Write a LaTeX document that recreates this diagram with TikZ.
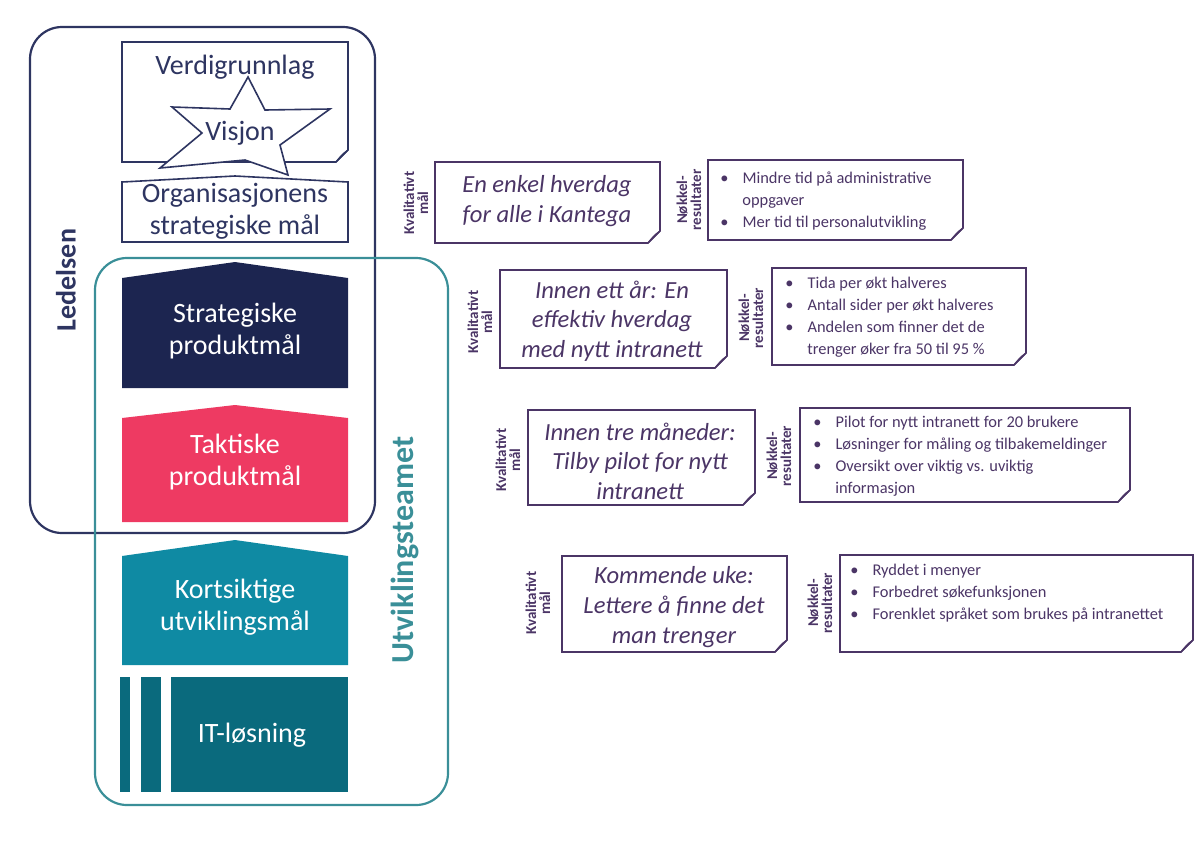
\documentclass[tikz,border=0pt]{standalone}
\usepackage{fontspec}
\setmainfont{Carlito}
\definecolor{navy}{HTML}{2E3561}
\definecolor{dnavy}{HTML}{1C2550}
\definecolor{tealc}{HTML}{3A8F98}
\definecolor{pinkc}{HTML}{EE3A62}
\definecolor{kort}{HTML}{0F8AA3}
\definecolor{itc}{HTML}{0A6A7D}
\definecolor{purp}{HTML}{4B3566}
\newcommand{\mynote}[5]{% x1 y1 x2 y2 color
  \draw[#5,line width=0.8pt,fill=white] (#1,#2) -- (#3,#2) -- (#3,#4-12) -- (#3-12,#4) -- (#1,#4) -- cycle;
  \draw[#5,line width=0.6pt,fill=gray!35] (#3,#4-12) -- (#3-12,#4) .. controls (#3-9,#4-4) .. (#3-4,#4-9) -- cycle;}
\newcommand{\bl}{\textbullet\hspace{7pt}}
\newcommand{\ind}{\hspace*{11pt}}
\tikzset{
  big/.style={font=\fontsize{14}{16}\selectfont,align=center},
  wt/.style={big,text=white},
  side/.style={rotate=90,font=\bfseries\fontsize{#1}{14}\selectfont},
  kv/.style={rotate=90,font=\bfseries\fontsize{7.5}{7}\selectfont,align=center,text=purp},
  goal/.style={font=\itshape\fontsize{12.3}{14.8}\selectfont,align=center,text=purp},
  res/.style={font=\fontsize{8.2}{11}\selectfont,align=left,text=purp,anchor=north west,inner sep=0pt},
}
\begin{document}
\begin{tikzpicture}[x=0.5pt,y=-0.5pt]
\useasboundingbox (0,0) rectangle (1200,842);
% left column
\mynote{122}{42}{348}{162}{navy}
\node[big,text=navy] (verdi) at (235,67) {Verdigrunnlag};
\draw[navy,line width=0.8pt,fill=white] (248,77) -- (265,110) -- (330,109) -- (280,145) -- (288,175) -- (245,160) -- (160,168) -- (202,133) -- (172,107) -- (230,109) -- cycle;
\node[big,text=navy] (visjon) at (240,133) {Visjon};
\draw[navy,line width=0.8pt,fill=white] (122,182) -- (235,176) -- (348,182) -- (348,242) -- (122,242) -- cycle;
\node[big,text=navy] (org) at (235,211) {Organisasjonens\\strategiske mål};
\fill[dnavy] (122,278) -- (235,262) -- (348,278) -- (348,388) -- (122,388) -- cycle;
\node[wt] (strat) at (235,331) {Strategiske\\produktmål};
\fill[pinkc] (122,418) -- (235,405) -- (348,418) -- (348,522) -- (122,522) -- cycle;
\node[wt] (takt) at (235,462) {Taktiske\\produktmål};
\fill[kort] (122,556) -- (235,540) -- (348,556) -- (348,665) -- (122,665) -- cycle;
\node[wt] (kort) at (235,607) {Kortsiktige\\utviklingsmål};
\fill[itc] (120,677) rectangle (130,792);
\fill[itc] (141,677) rectangle (161,792);
\fill[itc] (171,677) rectangle (348,792);
\node[wt] (it) at (252,735) {IT-løsning};
\draw[navy,line width=1.1pt,rounded corners=16pt] (30,27) rectangle (375,533);
\node[side=14,text=navy] (led) at (66,280) {Ledelsen};
\draw[tealc,line width=1.1pt,rounded corners=16pt] (95,258) rectangle (448,805);
\node[side=16,text=tealc] (utv) at (405,550) {Utviklingsteamet};
% row 1
\node[kv] (k1) at (416,203) {Kvalitativt\\mål};
\mynote{435}{162}{660}{243}{purp}
\node[goal] (g1) at (547,201) {En enkel hverdag\\for alle i Kantega};
\node[kv] (n1) at (689,200) {Nøkkel-\\resultater};
\mynote{708}{160}{963}{240}{purp}
\node[res] (r1) at (720,171) {\bl Mindre tid på administrative\\\ind oppgaver\\\bl Mer tid til personalutvikling};
% row 2
\node[kv] (k2) at (480,322) {Kvalitativt\\mål};
\mynote{500}{270}{727}{368}{purp}
\node[goal] (g2) at (612,321) {Innen ett år: En\\effektiv hverdag\\med nytt intranett};
\node[kv] (n2) at (751,318) {Nøkkel-\\resultater};
\mynote{772}{268}{1026}{365}{purp}
\node[res] (r2) at (785,277) {\bl Tida per økt halveres\\\bl Antall sider per økt halveres\\\bl Andelen som finner det de\\\ind trenger øker fra 50 til 95 \%};
% row 3
\node[kv] (k3) at (508,460) {Kvalitativt\\mål};
\mynote{528}{410}{755}{505}{purp}
\node[goal] (g3) at (640,461) {Innen tre måneder:\\Tilby pilot for nytt\\intranett};
\node[kv] (n3) at (779,456) {Nøkkel-\\resultater};
\mynote{800}{408}{1130}{502}{purp}
\node[res] (r3) at (813,416) {\bl Pilot for nytt intranett for 20 brukere\\\bl Løsninger for måling og tilbakemeldinger\\\bl Oversikt over viktig vs. uviktig\\\ind informasjon};
% row 4
\node[kv] (k4) at (538,603) {Kvalitativt\\mål};
\mynote{562}{556}{787}{652}{purp}
\node[goal] (g4) at (674,607) {Kommende uke:\\Lettere å finne det\\man trenger};
\node[kv] (n4) at (820,603) {Nøkkel-\\resultater};
\mynote{840}{555}{1193}{652}{purp}
\node[res] (r4) at (850,564) {\bl Ryddet i menyer\\\bl Forbedret søkefunksjonen\\\bl Forenklet språket som brukes på intranettet};
\end{tikzpicture}
\end{document}
